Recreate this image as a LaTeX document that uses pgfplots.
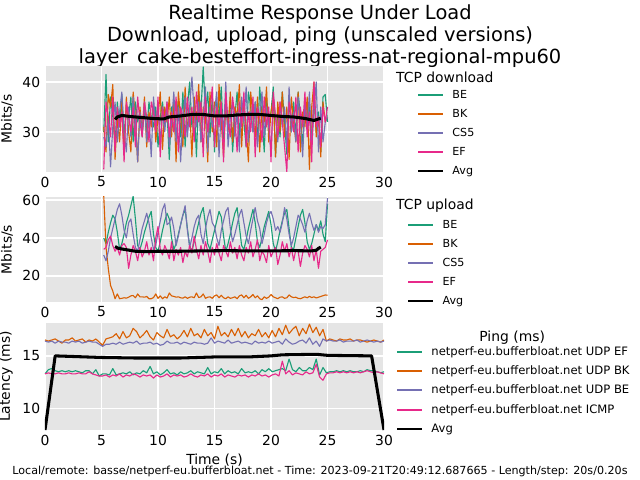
\documentclass[border=0pt]{standalone}
\usepackage{fontspec}
\setmainfont{DejaVu Sans}
\usepackage{pgfplots}
\pgfplotsset{compat=1.18}
\definecolor{cBE}{HTML}{1B9E77}
\definecolor{cBK}{HTML}{D95F02}
\definecolor{cCS}{HTML}{7570B3}
\definecolor{cEF}{HTML}{E7298A}
\definecolor{bg}{HTML}{E5E5E5}
\tikzset{ttl/.style={anchor=west, inner sep=0pt, font=\fontsize{10}{12}\selectfont}}
\pgfplotsset{
  panel/.style={scale only axis, width=244.1pt, anchor=south west,
    xmin=0, xmax=30, xtick={0,5,...,30}, clip mode=individual,
    axis background/.style={fill=bg},
    grid=major, major grid style={white, line width=0.9pt},
    axis line style={draw=none}, major tick length=0pt,
    tick label style={font=\fontsize{10}{12}\selectfont},
    /pgf/number format/assume math mode=true,
    label style={font=\fontsize{10}{12}\selectfont},
    legend cell align=left,
    legend image code/.code={\draw[line width=1.4pt, ##1] (0pt,0.5pt) -- (18pt,0.5pt);},
    legend style={draw=none, fill=none, font=\fontsize{8}{9.6}\selectfont, anchor=north west,
      inner sep=0pt, row sep=5.7pt, column sep=0pt,
      nodes={inner sep=0pt, text height=6pt, text depth=2pt},
      /tikz/every odd column/.style={column sep=6pt}},
    every axis plot/.append style={line width=0.8pt, line join=round},
  },
  avg/.style={draw=black, line width=2.2pt},
}
\begin{document}
\begin{tikzpicture}
\path[use as bounding box] (0,0) rectangle (460.8pt,345.6pt);
\node[anchor=base, font=\fontsize{14}{16}\selectfont] at (230.4pt,331.2pt) {Realtime Response Under Load};
\node[anchor=base, font=\fontsize{14}{16}\selectfont] at (230.4pt,315.4pt) {Download, upload, ping (unscaled versions)};
\node[anchor=base, font=\fontsize{14}{16}\selectfont] at (230.4pt,300.2pt) {layer\_cake-besteffort-ingress-nat-regional-mpu60};
\node[anchor=base, font=\fontsize{8}{9.6}\selectfont] at (230.4pt,4.0pt) {Local/remote: basse/netperf-eu.bufferbloat.net - Time: 2023-09-21T20:49:12.687665 - Length/step: 20s/0.20s};

% ---------------- TCP download ----------------
\begin{axis}[panel, at={(32.4pt,221.8pt)}, height=76.3pt,
  ymin=22, ymax=43.2, ytick={30,40}, ylabel={Mbits/s},
  legend style={at={(axis description cs:1.097,0.775)}}]
\addplot[draw=cBE] table[row sep=\\, x expr={5.2+0.2*\coordindex}, y=y] {y\\
30\\41.5\\28\\37\\33\\27.5\\36\\31\\37.5\\29\\
35\\33\\37\\28\\36\\32\\34\\29\\35\\30\\
36\\33\\31\\35\\27\\33\\36\\31\\34\\24.5\\
35\\30\\33\\36\\29\\38\\27\\35\\40\\31\\
36\\25\\38\\34\\43\\34\\38\\29\\37\\26\\
36\\33\\39\\28\\35\\31\\37\\26\\33\\38\\
29\\36\\32\\27\\38\\35\\30\\36\\28\\39\\
33\\26\\37\\31\\34\\39\\25\\35\\29\\38\\
32\\25.5\\37\\30\\36\\29\\38\\33\\27\\36\\
31\\35\\28\\37\\30\\34\\26\\37\\37.5\\32\\};
\addlegendentry{BE}
\addplot[draw=cBK] table[row sep=\\, x expr={5.2+0.2*\coordindex}, y=y] {y\\
31\\26\\37.5\\35\\39.5\\24.5\\33\\28\\36\\25.5\\
37\\30\\26\\38\\33\\24\\35\\30\\37\\27\\
34\\31\\36\\28\\33\\38\\26.5\\35\\32\\37\\
29\\36\\24\\38\\33\\27\\39\\30\\35\\25\\
37\\32\\39.5\\28\\35\\33\\24\\38\\30\\36\\
27\\39.5\\32\\25\\37\\30\\38\\28\\35\\33\\
39.5\\27\\36\\31\\24\\38\\33\\29\\37\\26\\
35\\32\\39\\28\\34\\37\\25\\36\\30\\38\\
29\\35\\24.5\\37\\32\\28\\38\\26\\34\\31\\
37\\22.5\\35\\40\\29\\33\\25\\36\\32\\33\\};
\addlegendentry{BK}
\addplot[draw=cCS] table[row sep=\\, x expr={5.2+0.2*\coordindex}, y=y] {y\\
29\\27\\33\\23\\31\\36\\28\\34\\38\\30\\
26\\35\\29\\37\\32\\24\\34\\30\\36\\28\\
33\\25\\37\\31\\35\\28\\34\\30\\36\\27\\
32\\38\\28\\35\\24\\33\\37\\29\\35\\41\\
34\\31\\36\\28\\33\\39\\26\\35\\31\\34\\
38\\25\\35\\30\\40\\27\\33\\36\\29\\34\\
26\\37\\32\\39\\28\\34\\30\\36\\27\\33\\
38\\29\\35\\31\\26\\37\\33\\28\\36\\31\\
35\\27\\39\\30\\34\\28\\37\\32\\25\\36\\
31\\38\\27\\34\\40\\26\\35\\28\\32\\33\\};
\addlegendentry{CS5}
\addplot[draw=cEF] table[row sep=\\, x expr={5.2+0.2*\coordindex}, y=y] {y\\
22.5\\36\\33\\29\\37\\26\\35\\31\\34\\24\\
36\\33\\30\\35\\27\\37\\32\\29\\36\\33\\
28\\36\\34\\30\\37\\25\\35\\32\\36\\29\\
34\\30\\37\\26\\35\\33\\29\\37\\31\\35\\
28\\38\\32\\36\\25\\37\\30\\34\\39\\27\\
35\\31\\36\\24\\38\\32\\29\\37\\33\\26\\
36\\31\\38\\27\\34\\30\\37\\25\\35\\33\\
28\\37\\31\\35\\24\\38\\33\\29\\36\\32\\
27\\22\\36\\33\\30\\37\\26\\35\\31\\38\\
29\\34\\24\\40\\31\\33\\27\\35\\32\\35\\};
\addlegendentry{EF}
\addplot[avg] coordinates {(6.2,32.5)(6.4,33)(6.8,33.3)(7.5,33.1)(8.5,32.9)(9.5,32.7)(10.5,32.6)(11,33)(12,33.2)(13,33.5)(14,33.5)(15,33.2)(16,33.2)(17,33.4)(18,33.5)(19,33.5)(20,33.3)(21,33.1)(22,33)(23,32.7)(23.8,32.3)(24.2,32.6)(24.4,32.7)};
\addlegendentry{Avg}
\node[ttl] at (axis description cs:1.035,0.896) {TCP download};
\end{axis}

% ---------------- TCP upload ----------------
\begin{axis}[panel, at={(32.4pt,128.2pt)}, height=75.6pt,
  ymin=6.3, ymax=61.6, ytick={20,40,60}, ylabel={Mbits/s},
  legend style={at={(axis description cs:1.068,0.786)}}]
\addplot[draw=cBE] table[row sep=\\, x expr={5.2+0.2*\coordindex}, y=y] {y\\
40\\37\\43\\48\\52\\50\\43\\34\\37\\42\\
48\\52\\57\\62\\50\\36\\34\\38\\43\\47\\
51\\54\\42\\35\\33\\38\\44\\49\\53\\50\\
40\\34\\37\\42\\47\\52\\55\\45\\36\\33\\
38\\43\\48\\53\\56\\47\\37\\34\\39\\44\\
49\\54\\51\\41\\33\\37\\42\\48\\53\\56\\
46\\36\\34\\39\\45\\50\\55\\48\\38\\35\\
40\\46\\50\\54\\47\\37\\33\\38\\44\\49\\
53\\55\\45\\35\\34\\40\\46\\52\\55\\48\\
38\\34\\37\\42\\47\\44\\49\\42\\38\\58\\};
\addlegendentry{BE}
\addplot[draw=cBK] table[row sep=\\, x expr={5.2+0.2*\coordindex}, y=y] {y\\
62\\35\\24\\15\\12\\8\\10.5\\8\\8.2\\8.5\\
8.3\\8.8\\9.5\\9.7\\8.5\\10.5\\9\\9\\8.8\\9.2\\
8\\8\\8.6\\10.5\\8.2\\9.5\\8\\9\\8.3\\11\\
9.5\\9.2\\8.8\\9\\8.5\\8.3\\9\\8.2\\8.8\\9\\
8.5\\11\\8.6\\9\\10.5\\8.2\\8.8\\9\\8.2\\9.5\\
10\\8.5\\9.8\\8.5\\8\\9\\8.2\\8.5\\9\\8\\
9.5\\10\\8.5\\9.8\\8.2\\9\\10.2\\8.5\\9.5\\8\\
7.5\\9\\8.2\\8.8\\10.2\\9\\8.5\\8\\8.8\\9\\
8.2\\8.5\\10\\9\\8.6\\8.8\\8.2\\8\\8.5\\9\\
8.5\\9.2\\8.6\\9\\8.4\\8.8\\9.2\\9.6\\10\\9.8\\};
\addlegendentry{BK}
\addplot[draw=cCS] table[row sep=\\, x expr={5.2+0.2*\coordindex}, y=y] {y\\
31\\28\\33\\40\\45\\50\\55\\58\\52\\44\\
40\\48\\50\\42\\35\\33\\39\\45\\49\\53\\
48\\40\\34\\36\\43\\49\\55\\58\\47\\48\\
51\\45\\36\\41\\47\\52\\57\\44\\35\\40\\
46\\50\\52\\42\\37\\45\\51\\55\\48\\46\\
40\\36\\44\\49\\54\\56\\45\\38\\42\\47\\
52\\55\\48\\41\\37\\44\\50\\56\\49\\45\\
37\\42\\48\\52\\54\\50\\44\\46\\43\\48\\
56\\50\\42\\36\\40\\46\\52\\50\\47\\43\\
49\\53\\48\\44\\47\\43\\46\\45\\47\\61\\};
\addlegendentry{CS5}
\addplot[draw=cEF] table[row sep=\\, x expr={5.2+0.2*\coordindex}, y=y] {y\\
34\\35\\39\\41\\36\\33\\35\\31\\36\\37\\
35\\24\\31\\36\\33\\28\\35\\30\\33\\38\\
31\\35\\28\\40\\46\\34\\31\\36\\33\\29\\
38\\28\\34\\31\\35\\27\\33\\30\\36\\32\\
41\\34\\29\\36\\31\\38\\33\\27\\35\\31\\
37\\32\\28\\36\\33\\30\\38\\32\\35\\29\\
36\\31\\28\\35\\32\\38\\30\\34\\39\\28\\
33\\31\\27\\36\\30\\33\\35\\26\\31\\38\\
33\\37\\30\\35\\28\\34\\33\\25\\32\\36\\
34\\30\\36\\28\\34\\24\\33\\34\\35\\39\\};
\addlegendentry{EF}
\addplot[avg] coordinates {(6.2,35.5)(6.5,34.5)(7,34)(7.5,33.5)(8,33)(9,32.8)(10,33)(12,33)(14,33.2)(16,33.3)(18,33.2)(20,33.2)(22,33.3)(23.6,33.2)(24,33.5)(24.2,34.5)(24.4,35.2)};
\addlegendentry{Avg}
\node[ttl] at (axis description cs:1.035,0.914) {TCP upload};
\end{axis}

% ---------------- Ping ----------------
\begin{axis}[panel, at={(32.4pt,36pt)}, height=77pt,
  ymin=8.0, ymax=18.1, ytick={10,15}, ylabel={Latency (ms)}, xlabel={Time (s)},
  xlabel style={yshift=1pt},
  legend style={at={(axis description cs:1.035,0.78)}, font=\fontsize{8.35}{10}\selectfont, row sep=5.9pt}]
\addplot[draw=cBE] table[row sep=\\, x expr={0.3*\coordindex}, y=y] {y\\
13.3\\13.7\\13.8\\13.6\\13.5\\13.6\\13.5\\13.6\\13.5\\13.6\\
13.5\\13.4\\13.6\\13.6\\13.3\\13.7\\13.1\\13.3\\13.3\\13.2\\
13.8\\13.2\\13.3\\13.4\\13.3\\13.5\\13.2\\13.4\\13.3\\13.6\\
13.4\\14.0\\13.3\\13.5\\13.2\\13.4\\13.7\\13.3\\13.4\\13.2\\
13.5\\13.3\\13.4\\13.6\\13.3\\13.5\\13.4\\13.3\\13.9\\13.3\\
13.5\\13.4\\13.8\\13.3\\13.6\\13.4\\13.5\\13.3\\13.8\\13.4\\
13.5\\13.4\\13.6\\13.3\\13.7\\13.5\\13.8\\13.5\\13.6\\13.7\\
13.8\\13.6\\14.7\\13.7\\13.5\\13.9\\13.6\\13.6\\13.9\\13.7\\
14.7\\13.2\\13.9\\13.4\\13.5\\13.5\\13.6\\13.5\\13.6\\13.5\\
13.6\\13.5\\13.5\\13.6\\13.5\\13.7\\13.6\\13.6\\13.5\\13.4\\13.5\\};
\addlegendentry{netperf-eu.bufferbloat.net UDP EF}
\addplot[draw=cBK] table[row sep=\\, x expr={0.3*\coordindex}, y=y] {y\\
16.5\\16.4\\16.5\\16.6\\16.4\\16.2\\16.5\\16.5\\16.7\\16.4\\
16.5\\16.6\\16.3\\16.5\\16.4\\16.6\\16.3\\16.0\\16.6\\16.7\\
16.8\\17.1\\16.6\\17.3\\16.7\\16.9\\17.6\\17.3\\16.7\\17.0\\
17.4\\16.8\\16.5\\17.2\\16.9\\16.7\\17.5\\16.8\\17.0\\16.6\\
16.9\\17.4\\16.8\\17.6\\16.9\\17.1\\16.7\\17.5\\16.9\\17.2\\
16.6\\17.8\\16.9\\17.2\\16.8\\17.5\\16.9\\17.6\\16.8\\17.3\\
16.7\\17.1\\16.9\\17.5\\16.8\\17.2\\16.7\\17.4\\16.8\\17.6\\
17.0\\17.9\\17.1\\17.5\\17.8\\16.9\\17.6\\17.1\\18.0\\17.2\\
17.7\\16.9\\17.5\\16.4\\16.6\\16.5\\16.4\\16.6\\16.5\\16.5\\
16.6\\16.4\\16.5\\16.5\\16.4\\16.3\\16.4\\16.5\\16.4\\16.3\\16.5\\};
\addlegendentry{netperf-eu.bufferbloat.net UDP BK}
\addplot[draw=cCS] table[row sep=\\, x expr={0.3*\coordindex}, y=y] {y\\
16.4\\16.3\\16.4\\16.2\\16.4\\16.3\\16.3\\16.2\\16.4\\16.3\\
16.4\\16.2\\16.3\\16.4\\16.3\\16.3\\16.1\\15.9\\16.1\\16.1\\
16.2\\16.1\\16.3\\16.1\\16.2\\16.3\\16.2\\16.4\\16.1\\16.2\\
16.2\\16.3\\16.1\\16.2\\16.0\\16.1\\16.4\\16.2\\16.2\\16.3\\
16.1\\16.3\\16.2\\16.1\\16.3\\16.2\\16.2\\16.1\\16.2\\16.7\\
16.2\\16.4\\16.3\\16.2\\16.5\\16.2\\16.3\\16.4\\16.2\\16.3\\
16.2\\16.1\\16.4\\16.2\\16.3\\16.2\\16.4\\16.2\\16.3\\16.4\\
16.1\\16.6\\16.3\\16.1\\16.2\\16.4\\16.5\\16.2\\16.7\\16.1\\
16.4\\15.9\\16.6\\16.4\\16.5\\16.4\\16.4\\16.5\\16.3\\16.4\\
16.4\\16.4\\16.5\\16.3\\16.4\\16.5\\16.4\\16.3\\16.4\\16.3\\16.4\\};
\addlegendentry{netperf-eu.bufferbloat.net UDP BE}
\addplot[draw=cEF] table[row sep=\\, x expr={0.3*\coordindex}, y=y] {y\\
13.3\\13.4\\13.3\\13.3\\13.4\\13.3\\13.3\\13.4\\13.3\\13.3\\
13.4\\13.3\\13.3\\13.5\\13.3\\13.2\\13.1\\13.1\\13.2\\13.0\\
13.2\\13.1\\13.3\\13.0\\13.2\\13.1\\13.3\\13.2\\13.0\\13.2\\
13.1\\13.2\\12.9\\13.2\\13.0\\13.1\\13.3\\13.0\\13.2\\13.1\\
13.2\\13.0\\13.1\\13.3\\13.1\\13.0\\13.2\\13.1\\13.3\\13.0\\
13.2\\13.1\\13.3\\13.0\\13.2\\13.1\\13.0\\13.2\\13.1\\13.2\\
13.0\\13.2\\13.1\\13.3\\13.1\\13.2\\13.0\\13.2\\13.3\\13.1\\
14.5\\13.3\\13.6\\13.2\\13.4\\13.3\\13.2\\13.5\\13.3\\13.4\\
14.2\\13.0\\12.7\\13.3\\13.4\\13.4\\13.5\\13.4\\13.5\\13.4\\
13.5\\13.4\\13.5\\13.4\\13.5\\13.6\\13.5\\13.4\\13.5\\13.4\\13.3\\};
\addlegendentry{netperf-eu.bufferbloat.net ICMP}
\addplot[avg] coordinates {(0,8)(0.9,15)(5,14.85)(8,14.8)(12,14.8)(15,14.9)(18,14.9)(20,15)(21,15.1)(24,15.15)(25,15.05)(28.9,15)(30,8)};
\addlegendentry{Avg}
\node[font=\fontsize{10}{12}\selectfont] at (axis description cs:1.378,0.865) {Ping (ms)};
\end{axis}
\end{tikzpicture}
\end{document}
